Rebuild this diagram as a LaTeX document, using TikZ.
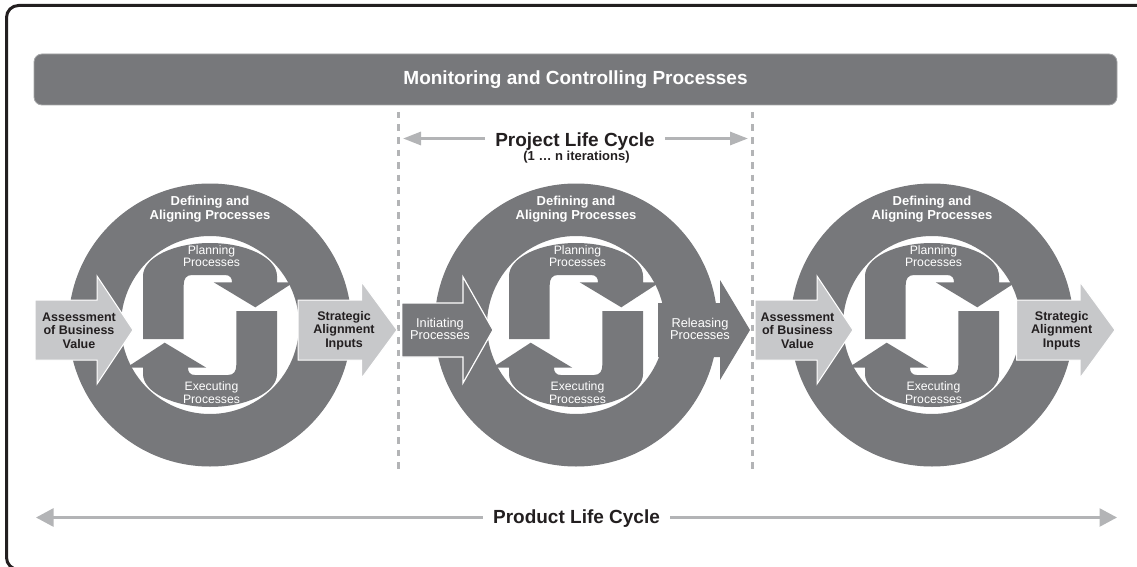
\documentclass[tikz,border=0pt]{standalone}
\usepackage{fontspec}
\setmainfont{Liberation Sans}
\usetikzlibrary{arrows.meta}
\definecolor{ringgray}{HTML}{77787B}
\definecolor{lightfill}{HTML}{C7C8CA}
\definecolor{dashgray}{HTML}{B3B4B6}
\definecolor{framecol}{HTML}{231F20}
\definecolor{textdark}{HTML}{231F20}
\definecolor{baredge}{HTML}{A5A6A8}

\newcommand\Sfill[1]{\fill[#1] (-26.3,14) -- (-67,14) -- (-67,-49)
  .. controls (-67,-67) and (-37,-82) .. (0,-82)
  .. controls (37,-82) and (67,-67) .. (67,-49)
  -- (67,-42.7) -- (83.7,-42.7) -- (45.3,-17.7) -- (3.7,-42.7) -- (22,-42.7)
  .. controls (22,-47) and (20,-50) .. (15,-50) -- (-18,-50)
  .. controls (-24,-50) and (-26.3,-46) .. (-26.3,-40) -- cycle;}

\newcommand\CycleUnit[2]{%
  \begin{scope}[shift={(#2,325)}]
    \fill[ringgray, even odd rule] (0,0) circle[radius=141.5] (0,0) circle[radius=89];
    \Sfill{ringgray}
    \Sfill{ringgray, rotate=180}
    \node[deftext] (#1def) at (0,-116) {Defining and\\Aligning Processes};
    \node[stext] (#1plan) at (1.5,-69) {Planning\\Processes};
    \node[stext] (#1exec) at (1.5,67.5) {Executing\\Processes};
  \end{scope}}

% #1 style, #2 shaft left, #3 barb x, #4 tip x, #5 centre y, #6 shaft half height, #7 head half height
\newcommand\BigArrow[7]{%
  \path[#1] (#2,#5-#6) -- (#3,#5-#6) -- (#3,#5-#7) -- (#4,#5) -- (#3,#5+#7)
    -- (#3,#5+#6) -- (#2,#5+#6) -- cycle;}

\tikzset{
  deftext/.style={text=white, font=\bfseries\fontsize{13}{14.3}\selectfont, align=center, inner sep=0pt},
  stext/.style={text=white, font=\fontsize{12.2}{12.3}\selectfont, align=center, inner sep=0pt},
  lighttext/.style={text=textdark, font=\bfseries\fontsize{12.5}{13.5}\selectfont, align=center, inner sep=0pt},
  darktext/.style={text=white, font=\fontsize{12.8}{12.2}\selectfont, align=center, inner sep=0pt},
  lightarrow/.style={fill=lightfill, draw=white, line width=1pt},
  darkarrow/.style={fill=ringgray, draw=white, line width=1.2pt},
  relarrow/.style={fill=ringgray},
  mcbar/.style={fill=ringgray, draw=baredge, line width=0.8pt, rounded corners=8pt,
    minimum width=1083pt, minimum height=51pt, text=white,
    font=\bfseries\fontsize{19}{22}\selectfont},
  lifetext/.style={text=textdark, font=\bfseries\fontsize{19}{22}\selectfont, inner xsep=10pt, inner ysep=2pt, anchor=base},
  lifeline/.style={draw=dashgray, line width=3pt, -{Triangle[length=18pt, width=13pt]}},
  prodline/.style={draw=dashgray, line width=2.7pt, -{Triangle[length=17.5pt, width=18pt]}},
  dashline/.style={draw=dashgray, line width=3pt, dash pattern=on 6.5pt off 6pt},
}

\begin{document}
\begin{tikzpicture}[x=1pt, y=-1pt]
\useasboundingbox (0,0) rectangle (1137,567);

% frame (top and left edges)
\draw[framecol, line width=3pt, rounded corners=12pt] (1140,5.5) -- (6.5,5.5) -- (6.5,569.5) -- (40,569.5);

% monitoring bar
\node[mcbar] (mcp) at (575.5,79.5) {Monitoring and Controlling Processes};

% dashed separators
\coordinate (d1t) at (398,112); \coordinate (d1b) at (398,470);
\coordinate (d2t) at (752,112); \coordinate (d2b) at (752,470);
\draw[dashline] (d1t) -- (d1b);
\draw[dashline] (d2t) -- (d2b);

% project life cycle
\node[lifetext] (plc) at (575,146.5) {Project Life Cycle};
\node[text=textdark, font=\bfseries\fontsize{13}{14}\selectfont, inner sep=0pt, anchor=base] (iter) at (576.5,160) {(1 … n iterations)};
\coordinate (plcL) at (403,138.5);
\coordinate (plcR) at (748,138.5);
\draw[lifeline] (plc.west |- plcL) -- (plcL);
\draw[lifeline] (plc.east |- plcR) -- (plcR);

% cycles
\CycleUnit{c1}{210}
\CycleUnit{c2}{576}
\CycleUnit{c3}{932}

% big arrows
\BigArrow{lightarrow}{35}{97}{133}{330}{30}{54}
\BigArrow{lightarrow}{298}{361.7}{397}{330}{30}{48}
\BigArrow{darkarrow}{401.7}{463}{493}{330}{27}{53}
\BigArrow{relarrow}{658}{720}{750}{330}{27}{50}
\BigArrow{lightarrow}{755}{817}{853}{330}{30}{54}
\BigArrow{lightarrow}{1016.7}{1080}{1115}{330}{30}{48}

\node[lighttext] (assess1) at (79,330.7) {Assessment\\of Business\\Value};
\node[lighttext] (strat1) at (344,330.7) {Strategic\\Alignment\\Inputs};
\node[darktext] (init) at (440,329) {Initiating\\Processes};
\node[darktext] (rel) at (700,329) {Releasing\\Processes};
\node[lighttext] (assess2) at (797.5,330.7) {Assessment\\of Business\\Value};
\node[lighttext] (strat2) at (1061.7,330.7) {Strategic\\Alignment\\Inputs};

% product life cycle
\node[lifetext] (prod) at (576.5,523.5) {Product Life Cycle};
\coordinate (pL) at (36,517.5);
\coordinate (pR) at (1117,517.5);
\draw[prodline] (prod.west |- pL) -- (pL);
\draw[prodline] (prod.east |- pR) -- (pR);
\end{tikzpicture}
\end{document}
